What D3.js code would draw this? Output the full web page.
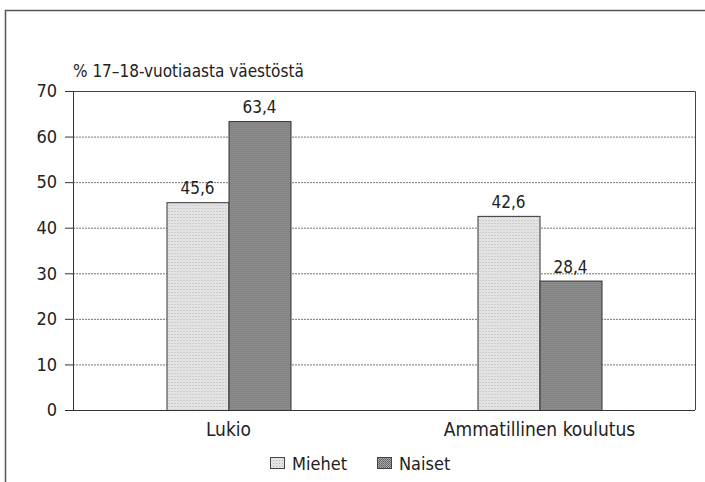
<!DOCTYPE html>
<html>
<head>
<meta charset="utf-8">
<script src="https://cdn.jsdelivr.net/npm/d3@7"></script>
<style>
  body { margin: 0; background: #fff; }
  text { font-family: "DejaVu Sans Condensed", "Liberation Sans Narrow", sans-serif; fill: #222; }
</style>
</head>
<body>
<div id="chart"></div>
<script>
// data
var categories = ["Lukio", "Ammatillinen koulutus"];
var seriesNames = ["Miehet", "Naiset"];
var miehet = [45.6, 42.6];
var naiset = [63.4, 28.4];
var yTicks = [0, 10, 20, 30, 40, 50, 60, 70];
var yTitle = "% 17–18-vuotiaasta väestöstä";

var width = 705, height = 482;
var margin = {top: 91, right: 10, bottom: 72, left: 73};
var w = width - margin.left - margin.right,
    h = height - margin.top - margin.bottom;

var svg = d3.select("#chart").append("svg")
    .attr("width", width)
    .attr("height", height);

// fill patterns
var defs = svg.append("defs");
var pLight = defs.append("pattern").attr("id", "light")
    .attr("width", 3).attr("height", 3).attr("patternUnits", "userSpaceOnUse");
pLight.append("rect").attr("width", 3).attr("height", 3).attr("fill", "#e8e8e8");
pLight.append("rect").attr("width", 1).attr("height", 1).attr("fill", "#b0b0b0");
pLight.append("rect").attr("x", 1.5).attr("y", 1.5).attr("width", 1).attr("height", 1).attr("fill", "#c8c8c8");

var pDark = defs.append("pattern").attr("id", "dark")
    .attr("width", 2).attr("height", 2).attr("patternUnits", "userSpaceOnUse");
pDark.append("rect").attr("width", 2).attr("height", 2).attr("fill", "#a8a8a8");
pDark.append("rect").attr("width", 1).attr("height", 1).attr("fill", "#5e5e5e");
pDark.append("rect").attr("x", 1).attr("y", 1).attr("width", 1).attr("height", 1).attr("fill", "#727272");

var fills = {"Miehet": "url(#light)", "Naiset": "url(#dark)"};

// outer frame
svg.append("path")
    .attr("d", "M5.5," + height + "V10.5H" + width)
    .attr("fill", "none")
    .attr("stroke", "#555")
    .attr("stroke-width", 1.5);

var g = svg.append("g")
    .attr("transform", "translate(" + margin.left + "," + margin.top + ")");

var x0 = d3.scaleBand().domain(categories).range([0, w]).padding(0);
var x1 = d3.scaleBand().domain(seriesNames).range([-62, 62]);
var y = d3.scaleLinear().domain([0, 70]).range([h, 0]);

// gridlines
g.selectAll(".grid")
    .data(yTicks.filter(function(d) { return d > 0 && d < 70; }))
    .enter().append("line")
    .attr("x1", 0).attr("x2", w)
    .attr("y1", function(d) { return y(d) + 0.5; })
    .attr("y2", function(d) { return y(d) + 0.5; })
    .attr("stroke", "#777")
    .attr("stroke-width", 1)
    .attr("stroke-dasharray", "2,1");

// plot frame top/right
g.append("path")
    .attr("d", "M0,0.5H" + (w + 0.5) + "V" + h)
    .attr("fill", "none")
    .attr("stroke", "#444")
    .attr("stroke-width", 1);

// bars
var rows = categories.map(function(c, i) {
    return {cat: c, values: [{name: "Miehet", v: miehet[i]}, {name: "Naiset", v: naiset[i]}]};
});

var grp = g.selectAll(".grp")
    .data(rows)
    .enter().append("g")
    .attr("transform", function(d) { return "translate(" + (x0(d.cat) + x0.bandwidth() / 2) + ",0)"; });

grp.selectAll("rect")
    .data(function(d) { return d.values; })
    .enter().append("rect")
    .attr("x", function(d) { return x1(d.name) + 0.5; })
    .attr("y", function(d) { return y(d.v) + 0.5; })
    .attr("width", x1.bandwidth())
    .attr("height", function(d) { return h - y(d.v); })
    .attr("fill", function(d) { return fills[d.name]; })
    .attr("stroke", "#333")
    .attr("stroke-width", 1);

grp.selectAll(".val")
    .data(function(d) { return d.values; })
    .enter().append("text")
    .attr("x", function(d) { return x1(d.name) + x1.bandwidth() / 2; })
    .attr("y", function(d) { return y(d.v) - 8; })
    .attr("text-anchor", "middle")
    .style("font-size", "17px")
    .text(function(d) { return d3.format(".1f")(d.v).replace(".", ","); });

// y axis
var yAxis = g.append("g")
    .call(d3.axisLeft(y).tickValues(yTicks).tickSize(8).tickPadding(8));
yAxis.select(".domain").attr("stroke", "#333");
yAxis.selectAll(".tick line").attr("stroke", "#333");
yAxis.selectAll("text").style("font-size", "18px").attr("fill", "#222");

// x axis
var xAxis = g.append("g")
    .attr("transform", "translate(0," + h + ")")
    .call(d3.axisBottom(x0).tickSize(0).tickPadding(13));
xAxis.select(".domain").attr("stroke", "#333").attr("d", "M0,0.5H" + w);
xAxis.selectAll("text").style("font-size", "19px").attr("fill", "#222");

// y title
svg.append("text")
    .attr("x", 73)
    .attr("y", 77)
    .style("font-size", "17px")
    .text(yTitle);

// legend
var legendX = [270, 377];
var leg = svg.selectAll(".leg")
    .data(seriesNames)
    .enter().append("g")
    .attr("transform", function(d, i) { return "translate(" + legendX[i] + ",457)"; });
leg.append("rect")
    .attr("x", 0.5).attr("y", 0.5)
    .attr("width", 14).attr("height", 11)
    .attr("fill", function(d) { return fills[d]; })
    .attr("stroke", "#444");
leg.append("text")
    .attr("x", 22)
    .attr("y", 13)
    .style("font-size", "18px")
    .text(function(d) { return d; });
</script>
</body>
</html>
